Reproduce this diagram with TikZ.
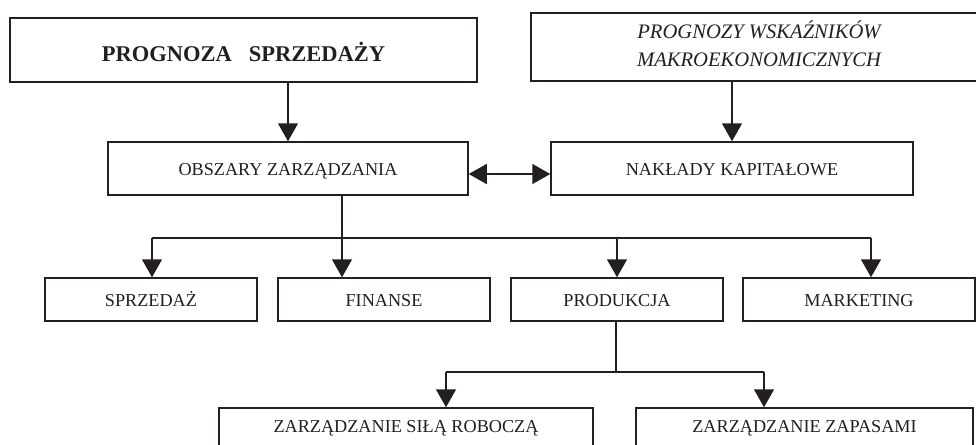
\documentclass[tikz,border=0pt]{standalone}
\usepackage{fontspec}
\setmainfont{Liberation Serif}
\usetikzlibrary{arrows.meta}
\definecolor{ink}{HTML}{231F20}
\begin{document}
\begin{tikzpicture}[x=1pt,y=-1pt,
  box/.style={draw=ink, line width=1.5pt, rectangle, inner sep=0pt, text=ink,
    text height=13.8pt, text depth=0pt,
    font=\fontsize{18.2}{22}\selectfont},
  arr/.style={draw=ink, line width=1.5pt, -{Triangle[width=20pt,length=18pt]}},
  dbl/.style={draw=ink, line width=1.5pt, {Triangle[width=20pt,length=18pt]}-{Triangle[width=20pt,length=18pt]}},
  ln/.style={draw=ink, line width=1.5pt}]
\useasboundingbox (0,0) rectangle (976,444);
\clip (0,0) rectangle (976,444);
\fill[white] (0,0) rectangle (976,444);
% top row
\node[box, minimum width=467pt, minimum height=64pt, text height=23pt,
  font=\fontsize{22.5}{26}\selectfont\bfseries] (ps) at (243.5,50)
  {PROGNOZA\hspace{17pt}SPRZEDAŻY};
\node[box, minimum width=456pt, minimum height=68pt, align=center,
  text height=39.1pt, text depth=0pt,
  font=\fontsize{20.6}{28.5}\selectfont\itshape] (pw) at (759,47)
  {PROGNOZY WSKAŹNIKÓW\\MAKROEKONOMICZNYCH};
% second row
\node[box, minimum width=360pt, minimum height=53pt] (oz) at (288,168.5) {OBSZARY ZARZĄDZANIA};
\node[box, minimum width=362pt, minimum height=53pt] (nk) at (732,168.5) {NAKŁADY KAPITAŁOWE};
% third row
\node[box, minimum width=212pt, minimum height=43pt, text height=14.8pt] (spr) at (151,299.5) {SPRZEDAŻ};
\node[box, minimum width=212pt, minimum height=43pt, text height=14.8pt] (fin) at (384,299.5) {FINANSE};
\node[box, minimum width=212pt, minimum height=43pt, text height=14.8pt] (prod) at (617,299.5) {PRODUKCJA};
\node[box, minimum width=232pt, minimum height=43pt, text height=14.8pt] (mark) at (859,299.5) {MARKETING};
% bottom row (cut off by the page edge)
\node[box, minimum width=374pt, minimum height=43pt] (zsr) at (406,429.5) {\raisebox{4pt}{ZARZĄDZANIE SIŁĄ ROBOCZĄ}};
\node[box, minimum width=337pt, minimum height=43pt] (zz) at (804.5,429.5) {\raisebox{4pt}{ZARZĄDZANIE ZAPASAMI}};
% bus coordinates
\coordinate (bl) at (152,238);
\coordinate (bf) at (342,238);
\coordinate (bp) at (617,238);
\coordinate (br) at (871,238);
\coordinate (ql) at (446,372);
\coordinate (qm) at (616,372);
\coordinate (qr) at (764,372);
% connectors
\draw[arr] (ps.south -| oz.north) -- (oz.north);
\draw[arr] (pw.south -| nk.north) -- (nk.north);
\draw[dbl] ([yshift=-5.5pt]oz.east) -- ([yshift=-5.5pt]nk.west);
\draw[ln] (bl) -- (br);
\draw[arr] (oz.south -| bf) -- (bf |- fin.north);
\draw[arr] (bl) -- (bl |- spr.north);
\draw[arr] (bp) -- (bp |- prod.north);
\draw[arr] (br) -- (br |- mark.north);
\draw[ln] (prod.south -| qm) -- (qm);
\draw[ln] (ql) -- (qr);
\draw[arr] (ql) -- (ql |- zsr.north);
\draw[arr] (qr) -- (qr |- zz.north);
\end{tikzpicture}
\end{document}
